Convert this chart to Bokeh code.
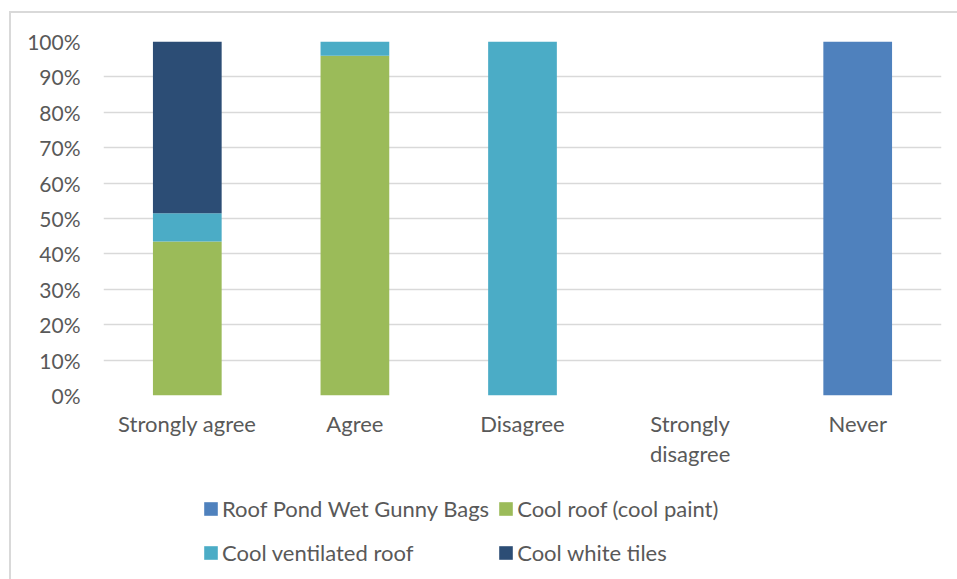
from bokeh.plotting import figure
from bokeh.layouts import column
from bokeh.models import (Legend, LegendItem, ColumnDataSource, FixedTicker,
                          NumeralTickFormatter, Range1d)
from bokeh.embed import file_html
from bokeh.resources import INLINE

# Response categories (x axis)
categories = ["Strongly agree", "Agree", "Disagree", "Strongly\ndisagree", "Never"]

# Share of respondents per cooling technique (percent)
series_names = ["Roof Pond Wet Gunny Bags", "Cool roof (cool paint)",
                "Cool ventilated roof", "Cool white tiles"]
roof_pond = [0, 0, 0, 0, 100]
cool_paint = [43.5, 96, 0, 0, 0]
cool_ventilated = [8, 4, 100, 0, 0]
cool_white_tiles = [48.5, 0, 0, 0, 0]

y_ticks = [0, 10, 20, 30, 40, 50, 60, 70, 80, 90, 100]

colors = ["#4f81bd", "#9bbb59", "#4bacc6", "#2c4d75"]
keys = ["roof_pond", "cool_paint", "cool_ventilated", "cool_white_tiles"]

source = ColumnDataSource(data=dict(
    cat=categories,
    roof_pond=[v / 100 for v in roof_pond],
    cool_paint=[v / 100 for v in cool_paint],
    cool_ventilated=[v / 100 for v in cool_ventilated],
    cool_white_tiles=[v / 100 for v in cool_white_tiles],
))

FONT = "Lato"
TEXT = "#595959"
GRID = "#d9d9d9"
W = 946

# Main chart: stacked percentage columns
p = figure(
    x_range=categories, y_range=(0, 1),
    width=W, height=472,
    output_backend="svg", toolbar_location=None,
    min_border_left=92, min_border_right=16,
    min_border_top=28, min_border_bottom=90,
    outline_line_color=None,
)

p.vbar_stack(keys, x="cat", width=0.41, color=colors, line_color=None, source=source)

p.yaxis.ticker = FixedTicker(ticks=[t / 100 for t in y_ticks])
p.yaxis.formatter = NumeralTickFormatter(format="0%")
for ax in (p.xaxis[0], p.yaxis[0]):
    ax.axis_line_color = None
    ax.major_tick_line_color = None
    ax.minor_tick_line_color = None
    ax.major_label_text_font = FONT
    ax.major_label_text_color = TEXT
p.yaxis.major_label_text_font_size = "21px"
p.xaxis.major_label_text_font_size = "22px"
p.xaxis.major_label_text_line_height = 1.13
p.yaxis.major_label_standoff = 17
p.xaxis.major_label_standoff = 8

p.xgrid.grid_line_color = None
p.ygrid.grid_line_color = GRID
p.ygrid.grid_line_width = 1.5

# Legend strip below the chart (swatch renderers sit outside the visible range)
lg = figure(
    width=W, height=94,
    x_range=Range1d(0, 1), y_range=Range1d(0, 1),
    output_backend="svg", toolbar_location=None,
    x_axis_location=None, y_axis_location=None,
    min_border=0, outline_line_color=None,
)
lg.xgrid.visible = False
lg.ygrid.visible = False
swatches = [lg.vbar(x=[-10], top=[-10], bottom=[-11], width=0.5, color=c, line_color=None)
            for c in colors]

legend = Legend(
    items=[LegendItem(label=n, renderers=[r]) for n, r in zip(series_names, swatches)],
    location=(99, 9),
    orientation="horizontal", ncols=2,
    glyph_width=17, glyph_height=17, label_standoff=3,
    label_height=36, spacing=8,
    padding=0, margin=0,
    border_line_color=None, background_fill_alpha=0,
    label_text_font=FONT, label_text_font_size="22px", label_text_color=TEXT,
)
lg.add_layout(legend, "center")

page = column(p, lg, spacing=0,
              styles={"margin-left": "9px", "margin-top": "11px",
                      "border-left": "2px solid #d9d9d9", "border-top": "2px solid #d9d9d9"})

open("out.html", "w").write(file_html(page, INLINE))
